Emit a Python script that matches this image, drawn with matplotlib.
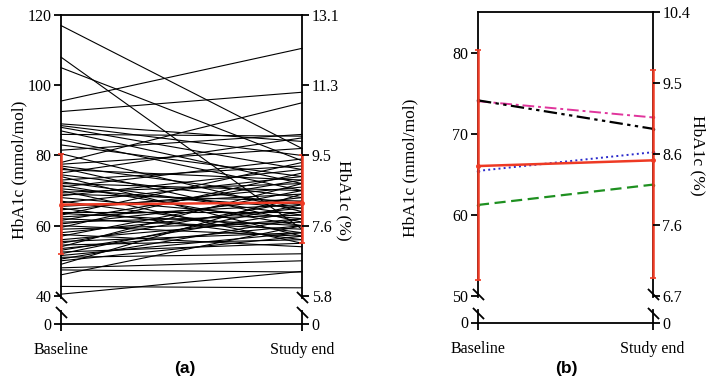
import matplotlib
matplotlib.use('Agg')
import matplotlib.pyplot as plt
import numpy as np

plt.rcParams['font.family'] = ['Liberation Serif', 'DejaVu Serif']

# --- panel (a): individual patients, HbA1c mmol/mol (baseline, study end) ---
baseline_a = [117, 108, 105, 95.5, 92.5, 89, 88.5, 88, 87, 86, 84.5, 83, 81.5, 80.5,
              78, 77.5, 77, 76.5, 76, 75, 74.5, 74, 73, 72.5, 72, 71.5, 71, 70.5,
              70, 69.5, 69, 68.5, 68, 67, 66.5, 65.5, 65, 64.5, 64, 63.5, 63, 62.5,
              62, 61.5, 61, 60.5, 60, 59.5, 59, 58, 57.5, 57, 56, 55.5, 55, 54.5,
              54, 53.5, 53, 52.5, 52, 51.5, 51, 50.5, 50, 49, 48, 47.4, 46, 42.7, 40.5]
studyend_a = [82, 59, 78.5, 110.5, 98, 84, 80, 76, 72, 85.5, 70, 74, 86, 64,
              95, 82, 68, 61, 73, 85, 66, 57, 77, 63, 70, 60, 79, 65,
              55, 72, 67, 76, 62, 58, 74, 69, 56, 71, 64, 60, 78, 66,
              59, 73, 63, 68, 57, 75, 61, 65, 54, 70, 62, 58, 67, 56,
              72, 60, 64, 55, 66, 58, 52, 62, 57, 69, 50, 46.8, 60, 42.3, 47]
mean_a = [66.0, 66.6]
lo_a = [52.0, 55.0]
hi_a = [80.5, 80.0]

# --- panel (b): group means ---
mean_b = [66.0, 66.7]
lo_b = [52.0, 52.2]
hi_b = [80.3, 77.9]
magenta_b = [74.0, 72.0]
black_b = [74.1, 70.6]
blue_b = [65.4, 67.7]
green_b = [61.2, 63.7]

xlabels = ['Baseline', 'Study end']
yticks_a = [0, 40, 60, 80, 100, 120]
rticks_a = ['0', '5.8', '7.6', '9.5', '11.3', '13.1']
yticks_b = [0, 50, 60, 70, 80]
rticks_b = ['0', '6.7', '7.6', '8.6', '9.5', '10.4']

RED = '#ee3a24'
LW = 1.3
FS = 11.5


def setup(ax, ytop, yfake0, ypos, ylabs, rpos, rlabs, gap):
    ax.set_xlim(0, 1)
    ax.set_ylim(yfake0, ytop)
    for s in ['left', 'right']:
        ax.spines[s].set_visible(False)
    for s in ['top', 'bottom']:
        ax.spines[s].set_linewidth(LW)
    ax.set_xticks([0, 1])
    ax.set_xticklabels(xlabels)
    ax.set_yticks(ypos)
    ax.set_yticklabels(ylabs)
    ax.tick_params(axis='both', direction='out', length=5, width=LW, labelsize=FS)
    ax.tick_params(axis='y', pad=2)
    ax.tick_params(axis='x', pad=8)
    # broken spines
    g1, g2 = gap
    for x in [0, 1]:
        ax.plot([x, x], [ytop, g1 - 0.3], color='k', lw=LW, clip_on=False, zorder=5)
        ax.plot([x, x], [g2 + 0.3, yfake0], color='k', lw=LW, clip_on=False, zorder=5)
        ax.plot([x, x], [g1, g2], ls='none', marker=[(-1, 1), (1, -1)], ms=8,
                mew=LW, color='k', clip_on=False, zorder=5)
    rx = ax.twinx()
    rx.set_ylim(yfake0, ytop)
    for s in rx.spines.values():
        s.set_visible(False)
    rx.set_yticks(rpos)
    rx.set_yticklabels(rlabs)
    rx.tick_params(axis='y', direction='out', length=5, width=LW, labelsize=FS, pad=2)
    return rx


fig = plt.figure(figsize=(7.09, 3.86), dpi=100)

# panel (a)
ax1 = fig.add_axes([61 / 709, 1 - 324 / 386, 241 / 709, 309 / 386])
fake0_a = 32
setup(ax1, 120, fake0_a, [fake0_a] + yticks_a[1:], [str(t) for t in yticks_a],
      [fake0_a] + yticks_a[1:], rticks_a, (39.7, 35.4))
for b, e in zip(baseline_a, studyend_a):
    ax1.plot([0, 1], [b, e], color='k', lw=0.8, clip_on=False, zorder=2)
ax1.errorbar([0, 1], mean_a,
             yerr=[np.subtract(mean_a, lo_a), np.subtract(hi_a, mean_a)],
             color=RED, lw=1.8, elinewidth=1.8, capsize=2, capthick=1.2,
             marker='o', ms=2.5, clip_on=False, zorder=6)

# panel (b)
ax2 = fig.add_axes([478 / 709, 1 - 322.5 / 386, 174.5 / 709, 310.5 / 386])
fake0_b = 46.7
rpos_b = [fake0_b] + list(np.linspace(50, 85, 5))
setup(ax2, 85, fake0_b, [fake0_b] + yticks_b[1:], [str(t) for t in yticks_b],
      rpos_b, rticks_b, (50.2, 47.9))
ax2.plot([0, 1], magenta_b, color='#e0359c', lw=1.4, dashes=(6, 2, 1.5, 2),
         marker='o', ms=1.5, clip_on=False, zorder=4)
ax2.plot([0, 1], black_b, color='k', lw=1.6, dashes=(6, 2, 1.5, 2, 1.5, 2),
         marker='o', ms=1.5, clip_on=False, zorder=4)
ax2.plot([0, 1], blue_b, color='#2a2acb', lw=1.4, ls=':', marker='o', ms=1.5,
         clip_on=False, zorder=4)
ax2.plot([0, 1], green_b, color='#1e9020', lw=1.6, dashes=(5, 2.5), marker='o',
         ms=1.5, clip_on=False, zorder=4)
ax2.errorbar([0, 1], mean_b,
             yerr=[np.subtract(mean_b, lo_b), np.subtract(hi_b, mean_b)],
             color=RED, lw=1.8, elinewidth=1.8, capsize=2, capthick=1.2,
             marker='o', ms=2.5, clip_on=False, zorder=6)

# axis titles
fig.text(19 / 709, 1 - 170 / 386, 'HbA1c (mmol/mol)', rotation=90, ha='center',
         va='center', fontsize=12.5)
fig.text(344 / 709, 1 - 200 / 386, 'HbA1c (%)', rotation=270, ha='center',
         va='center', fontsize=12.5)
fig.text(410 / 709, 1 - 168 / 386, 'HbA1c (mmol/mol)', rotation=90, ha='center',
         va='center', fontsize=12.5)
fig.text(698 / 709, 1 - 155 / 386, 'HbA1c (%)', rotation=270, ha='center',
         va='center', fontsize=12.5)

fig.text(185 / 709, 1 - 369 / 386, '(a)', ha='center', va='center', fontsize=12.5,
         fontweight='bold', family=['Liberation Sans', 'DejaVu Sans'])
fig.text(566 / 709, 1 - 369 / 386, '(b)', ha='center', va='center', fontsize=12.5,
         fontweight='bold', family=['Liberation Sans', 'DejaVu Sans'])

fig.savefig('out.png', dpi=100)
